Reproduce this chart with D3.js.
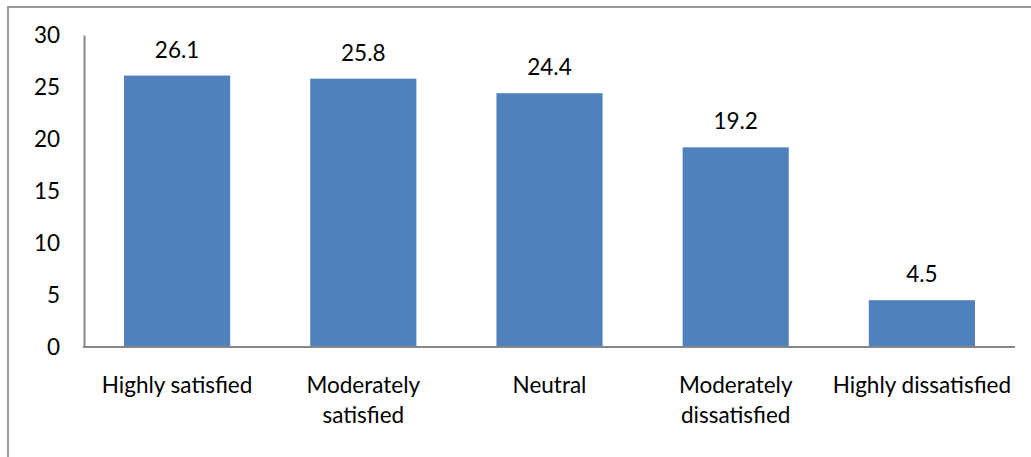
<!DOCTYPE html>
<html><head><meta charset="utf-8">
<script src="https://cdn.jsdelivr.net/npm/d3@7"></script>
<style>body{margin:0;background:#fff}svg{display:block}text{font-family:Lato,sans-serif;fill:#000}</style>
</head><body>
<svg id="c" width="1031" height="457"></svg>
<script>
const categories = [["Highly satisfied"],["Moderately","satisfied"],["Neutral"],["Moderately","dissatisfied"],["Highly dissatisfied"]];
const values = [26.1, 25.8, 24.4, 19.2, 4.5];
const yTicks = [0,5,10,15,20,25,30];

const FS = 22.5;
const svg = d3.select("#c");
svg.append("rect").attr("x",8).attr("y",7).attr("width",1040).attr("height",470)
  .attr("fill","none").attr("stroke","#9a9a9a").attr("stroke-width",2);

const x0 = 84, x1 = 1015, yTop = 35, yBot = 347;
const x = d3.scaleBand().domain(categories.map((c,i)=>i)).range([x0,x1]).paddingInner(0.43).paddingOuter(0.215);
const y = d3.scaleLinear().domain([0,30]).range([yBot,yTop]);

svg.selectAll("rect.bar").data(values).enter().append("rect").attr("class","bar")
  .attr("x",(d,i)=>x(i)).attr("width",x.bandwidth())
  .attr("y",d=>y(d)).attr("height",d=>y(0)-y(d)).attr("fill","#4F81BD");

const yAxis = d3.axisLeft(y).tickValues(yTicks).tickSize(0).tickPadding(24);
const ga = svg.append("g").attr("transform",`translate(${x0},0)`).call(yAxis);
ga.select(".domain").attr("stroke","#868686").attr("stroke-width",2);
ga.selectAll("text").attr("font-size",FS).attr("font-family","Lato").attr("fill","#000").attr("dy","0.35em");

svg.append("line").attr("x1",x0-1).attr("x2",x1).attr("y1",yBot).attr("y2",yBot).attr("stroke","#868686").attr("stroke-width",2);

svg.selectAll("text.val").data(values).enter().append("text").attr("class","val")
  .attr("x",(d,i)=>x(i)+x.bandwidth()/2).attr("y",d=>y(d)-18)
  .attr("text-anchor","middle").attr("font-size",FS).text(d=>d.toFixed(1));

categories.forEach((lines,i)=>{
  const t = svg.append("text").attr("text-anchor","middle").attr("font-size",FS)
    .attr("x",x(i)+x.bandwidth()/2).attr("y",393);
  lines.forEach((l,j)=>t.append("tspan").attr("x",x(i)+x.bandwidth()/2).attr("dy",j?30:0).text(l));
});
</script>
</body></html>
